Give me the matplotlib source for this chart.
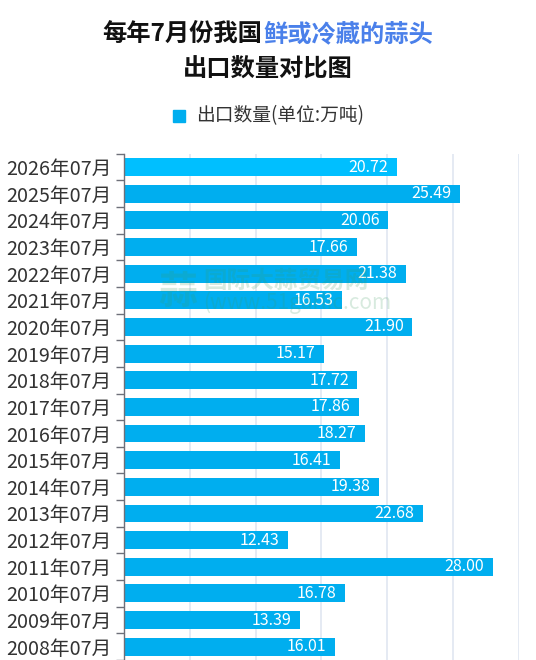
import numpy as np
import matplotlib
matplotlib.use('Agg')
import matplotlib.pyplot as plt
from matplotlib.patches import Rectangle

plt.rcParams['font.family'] = ['Noto Sans CJK SC', 'DejaVu Sans']

months = ['2026年07月', '2025年07月', '2024年07月', '2023年07月', '2022年07月',
          '2021年07月', '2020年07月', '2019年07月', '2018年07月', '2017年07月',
          '2016年07月', '2015年07月', '2014年07月', '2013年07月', '2012年07月',
          '2011年07月', '2010年07月', '2009年07月', '2008年07月']
volumes = [20.72, 25.49, 20.06, 17.66, 21.38, 16.53, 21.90, 15.17, 17.72, 17.86,
           18.27, 16.41, 19.38, 22.68, 12.43, 28.00, 16.78, 13.39, 16.01]

bar_color = '#00AEEF'
first_color = '#00BFFF'
axis_color = '#6E7079'
grid_color = '#E0E6F1'

fig = plt.figure(figsize=(5.36, 6.6), dpi=100)
ax = fig.add_axes([0.2313, 0.0, 0.737, 0.767])

n = len(months)
ypos = np.arange(n)
colors = [first_color] + [bar_color] * (n - 1)
ax.barh(ypos, volumes, height=0.67, color=colors, zorder=2)

for y, v in zip(ypos, volumes):
    ax.annotate(f'{v:.2f}', xy=(v, y), xytext=(-6, 0), textcoords='offset points',
                ha='right', va='center', color='white', fontsize=11.5, zorder=3)

ax.set_xlim(0, 30)
ax.set_ylim(n - 0.5, -0.5)
ax.set_xticks([5, 10, 15, 20, 25, 30])
ax.xaxis.grid(True, color=grid_color, linewidth=1.2, zorder=0)
ax.tick_params(axis='x', length=0, labelbottom=False)

ax.set_yticks(ypos)
ax.set_yticklabels(months, fontsize=14.2, color='#333333')
ax.set_yticks(np.arange(n + 1) - 0.5, minor=True)
ax.tick_params(axis='y', which='major', length=0, pad=9)
ax.tick_params(axis='y', which='minor', length=6, width=1, color=axis_color)

for s in ['top', 'right', 'bottom']:
    ax.spines[s].set_visible(False)
ax.spines['left'].set_color(axis_color)
ax.spines['left'].set_linewidth(1)

# title, two colours on the first line
fig.text(262 / 536, 1 - 34 / 660, '每年7月份我国', ha='right', va='center',
         fontsize=17.5, fontweight='bold', color='#111111')
fig.text(263 / 536, 1 - 34 / 660, '鲜或冷藏的蒜头', ha='left', va='center',
         fontsize=17.5, fontweight='bold', color='#4A80EA')
fig.text(0.5, 1 - 70 / 660, '出口数量对比图', ha='center', va='center',
         fontsize=17.5, fontweight='bold', color='#111111')

# legend
fig.patches.append(Rectangle((173 / 536, 1 - 122 / 660), 12 / 536, 12 / 660,
                             transform=fig.transFigure, color=bar_color))
fig.text(196 / 536, 1 - 116 / 660, '出口数量(单位:万吨)', ha='left', va='center',
         fontsize=13.5, color='#333333')

# faint watermark
fig.text(158 / 536, 1 - 292 / 660, '蒜', ha='left', va='center', fontsize=28,
         fontweight='bold', color='#3C9A5F', alpha=0.2, zorder=5)
fig.text(203 / 536, 1 - 281 / 660, '国际大蒜贸易网', ha='left', va='center',
         fontsize=17, fontweight='bold', color='#3C9A5F', alpha=0.2, zorder=5)
fig.text(203 / 536, 1 - 303 / 660, '(www.51garlic.com', ha='left', va='center',
         fontsize=15, style='italic', color='#3C9A5F', alpha=0.2, zorder=5)

fig.savefig('out.png', dpi=100)
